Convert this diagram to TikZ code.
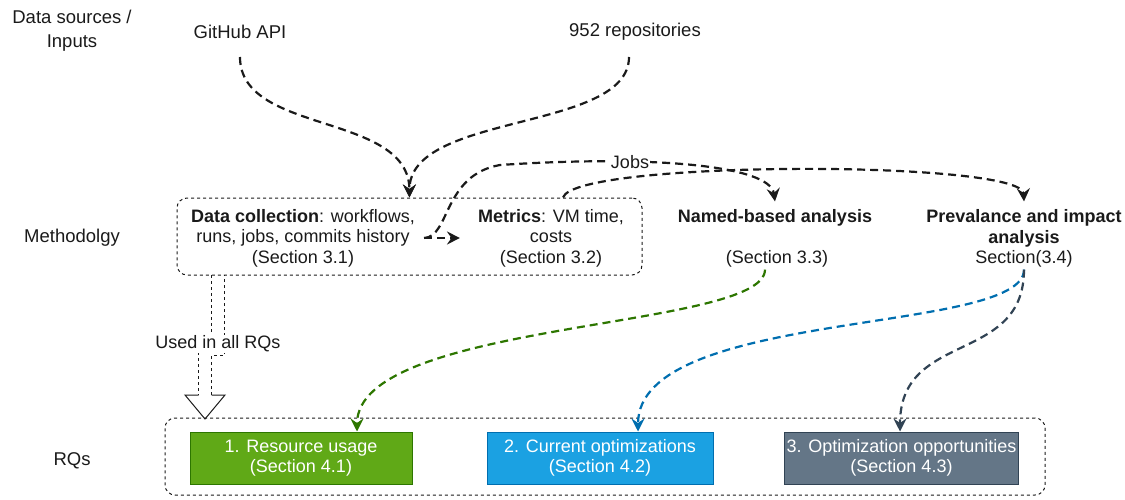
\documentclass[tikz,border=0pt]{standalone}
\usepackage{fontspec}
\setmainfont{Liberation Sans}
\usetikzlibrary{arrows.meta}
\definecolor{gfill}{HTML}{60A917}
\definecolor{gline}{HTML}{2D7600}
\definecolor{bfill}{HTML}{1BA1E2}
\definecolor{bline}{HTML}{006EAF}
\definecolor{sfill}{HTML}{647687}
\definecolor{sline}{HTML}{314354}
\definecolor{ink}{HTML}{1A1A1A}
\begin{document}
\begin{tikzpicture}[x=1pt,y=-1pt,
  every node/.style={font=\fontsize{18}{20.5}\selectfont, align=center, inner sep=2pt, text=ink},
  frame/.style={draw=ink, dash pattern=on 3pt off 3pt, line width=1pt, rounded corners=10pt},
  rqbox/.style 2 args={fill=#1, draw=#2, line width=1pt, text=white, minimum width=222pt, minimum height=52pt},
  flow/.style={draw=#1, line width=2.2pt, dash pattern=on 8pt off 5pt,
    -{Stealth[length=13pt,width=13pt,inset=4.5pt]}},
  flow/.default=ink,
  lab/.style={fill=white, inner sep=1pt}
]
\useasboundingbox (0,0) rectangle (1125,500);

% row labels
\node[font=\fontsize{18.5}{24}\selectfont] (lsrc) at (72,31) {Data sources /\\Inputs};
\node[font=\fontsize{18.5}{22}\selectfont] (lmeth) at (72,238) {Methodolgy};
\node[font=\fontsize{18.5}{22}\selectfont] (lrq) at (72,461) {RQs};

% inputs
\node[font=\fontsize{18.5}{22}\selectfont] (gh) at (240,32) {GitHub API};
\node[font=\fontsize{18.5}{22}\selectfont] (repo) at (635,32) {952 repositories};
\coordinate (ghs) at (240,57);
\coordinate (rps) at (629,57);

% methodology
\node[frame, minimum width=465pt, minimum height=77pt] (mb) at (409.5,236.5) {};
\node (dc) at (303,238) {\textbf{Data collection}: workflows,\\runs, jobs, commits history\\(Section 3.1)};
\node (met) at (551,238) {\textbf{Metrics}: VM time,\\costs\\(Section 3.2)};
\node[inner ysep=8pt] (nba) at (775,218) {\textbf{Named-based analysis}};
\node (nbas) at (777,259) {(Section 3.3)};
\node[inner ysep=8pt] (pia) at (1024,228.25) {\textbf{Prevalance and impact}\\\textbf{analysis}};
\node (pias) at (1024,259) {Section(3.4)};

% RQs
\node[frame, minimum width=880pt, minimum height=77pt] (rb) at (605,456.5) {};
\node[rqbox={gfill}{gline}, minimum width=222pt] (r1) at (301,458) {1. Resource usage\\(Section 4.1)};
\node[rqbox={bfill}{bline}, minimum width=226pt] (r2) at (600,458) {2. Current optimizations\\(Section 4.2)};
\node[rqbox={sfill}{sline}, minimum width=233pt] (r3) at (901.5,458) {3. Optimization opportunities\\(Section 4.3)};

% input edges
\draw[flow] (ghs) .. controls (240,135) and (409,112) .. (mb.north);
\draw[flow] (rps) .. controls (629,132) and (409,112) .. (mb.north);

% methodology edges
\draw[flow] ([xshift=7pt]dc.east) -- ([xshift=-16pt]met.west);
\draw[flow] ([xshift=7pt]dc.east) .. controls (450,237) and (443,175) .. (500,165)
  .. controls (650,155) and (770,165) .. (nba.north);
\node[lab] (jobs) at (630,162) {Jobs};
\draw[flow] ([xshift=153.5pt]mb.north) .. controls (575,160) and (1022,160) .. (pia.north);

% to RQs
\draw[flow=gline] ([xshift=-12pt]nbas.south) .. controls (765,330) and (357,320) .. ([xshift=56pt]r1.north);
\draw[flow=bline] (pias.south) .. controls (1024,335) and (638,308) .. ([xshift=38pt]r2.north);
\draw[flow=sline] (pias.south) .. controls (1024,365) and (900,330) .. ([xshift=-1.5pt]r3.north);

% hollow arrow
\draw[draw=ink, dash pattern=on 3pt off 3pt, line width=1pt]
  (211.5,275) -- (211.5,342.5) -- (198.5,342.5) -- (198.5,395)
  (211.5,395) -- (211.5,355.5) -- (224.5,355.5) -- (224.5,275);
\draw[draw=ink, line width=1pt, line join=miter]
  (198.5,395) -- (185,395) -- (205,419) -- (225,395) -- (211.5,395);
\node[lab] (used) at (218,344) {Used in all RQs};
\end{tikzpicture}
\end{document}
